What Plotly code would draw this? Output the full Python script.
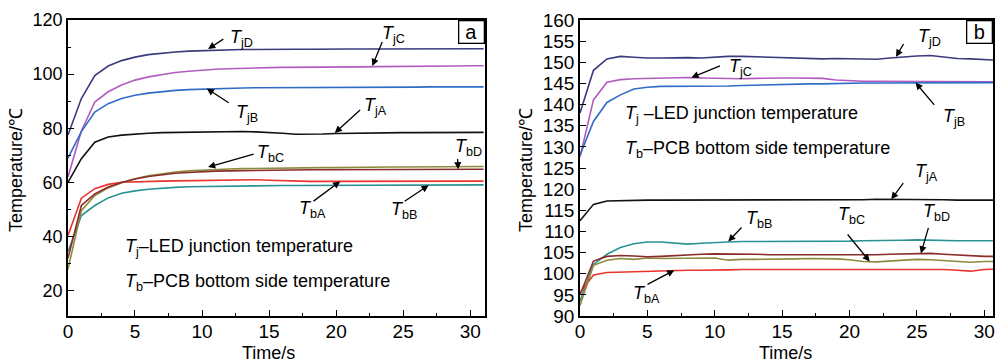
import plotly.graph_objects as go

# ---------------- data ----------------
time_s = list(range(0, 32))

# panel a
a_TjD = [77.5, 91.0, 99.5, 103.0, 105.0, 106.3, 107.2, 107.8, 108.2, 108.5, 108.7, 108.9, 109.0, 109.1, 109.1, 109.2,
         109.2, 109.2, 109.2, 109.3, 109.3, 109.3, 109.3, 109.3, 109.3, 109.3, 109.4, 109.4, 109.4, 109.4, 109.4, 109.4]
a_TjC = [62.0, 79.0, 89.7, 93.5, 96.0, 97.8, 99.0, 99.9, 100.6, 101.1, 101.5, 101.8, 102.0, 102.2, 102.3, 102.4,
         102.5, 102.5, 102.6, 102.6, 102.7, 102.7, 102.7, 102.8, 102.8, 102.8, 102.9, 102.9, 103.0, 103.0, 103.1, 103.1]
a_TjB = [69.0, 78.8, 86.0, 89.1, 91.0, 92.2, 93.0, 93.6, 94.0, 94.3, 94.5, 94.7, 94.8, 94.9, 95.0, 95.0,
         95.0, 95.1, 95.1, 95.1, 95.1, 95.2, 95.2, 95.2, 95.2, 95.2, 95.2, 95.3, 95.3, 95.3, 95.3, 95.3]
a_TjA = [60.0, 68.8, 74.9, 76.8, 77.5, 77.9, 78.2, 78.4, 78.5, 78.6, 78.6, 78.7, 78.8, 78.8, 78.7, 78.5,
         78.2, 77.8, 77.8, 77.9, 78.1, 78.2, 78.3, 78.3, 78.4, 78.4, 78.4, 78.4, 78.5, 78.5, 78.5, 78.5]
a_TbA = [40.4, 54.2, 57.7, 59.3, 60.1, 60.3, 60.4, 60.5, 60.6, 60.7, 60.8, 60.9, 61.0, 61.0, 61.0, 60.8,
         60.6, 60.5, 60.4, 60.4, 60.4, 60.4, 60.4, 60.4, 60.4, 60.5, 60.5, 60.5, 60.5, 60.5, 60.5, 60.5]
a_TbB = [34.4, 47.8, 51.5, 54.3, 56.0, 56.9, 57.5, 57.9, 58.2, 58.4, 58.5, 58.6, 58.7, 58.8, 58.8, 58.9,
         58.9, 58.9, 58.9, 59.0, 59.0, 59.0, 59.0, 59.0, 59.0, 59.0, 59.1, 59.1, 59.1, 59.1, 59.1, 59.1]
a_TbC = [28.0, 49.6, 55.2, 58.0, 59.9, 61.4, 62.5, 63.3, 63.9, 64.3, 64.6, 64.8, 65.0, 65.1, 65.2, 65.3,
         65.4, 65.4, 65.5, 65.5, 65.5, 65.6, 65.6, 65.6, 65.7, 65.7, 65.7, 65.8, 65.8, 65.8, 65.9, 65.9]
a_TbD = [32.0, 51.5, 55.8, 58.3, 60.0, 61.3, 62.2, 62.9, 63.4, 63.7, 64.0, 64.2, 64.3, 64.4, 64.5, 64.5,
         64.6, 64.6, 64.7, 64.7, 64.7, 64.7, 64.8, 64.8, 64.8, 64.8, 64.8, 64.9, 64.9, 64.9, 64.9, 64.9]

# panel b
b_TjD = [138.0, 148.1, 150.8, 151.4, 151.2, 151.0, 151.0, 151.1, 151.1, 151.0, 151.2, 151.4, 151.4, 151.3, 151.2, 151.1,
         151.0, 150.9, 150.8, 150.9, 150.8, 150.7, 150.7, 151.0, 151.3, 151.5, 151.6, 151.3, 150.9, 150.8, 150.6, 150.5]
b_TjC = [127.6, 141.1, 145.3, 145.9, 146.1, 146.2, 146.3, 146.3, 146.4, 146.3, 146.2, 146.2, 146.1, 146.2, 146.3, 146.3,
         146.3, 146.3, 146.2, 145.8, 145.6, 145.5, 145.5, 145.5, 145.5, 145.5, 145.5, 145.4, 145.4, 145.4, 145.4, 145.4]
b_TjB = [128.0, 136.0, 140.5, 142.3, 143.7, 144.1, 144.3, 144.3, 144.4, 144.4, 144.4, 144.4, 144.5, 144.6, 144.7, 144.8,
         144.8, 144.9, 144.9, 145.0, 145.0, 145.1, 145.1, 145.1, 145.2, 145.2, 145.2, 145.2, 145.2, 145.2, 145.2, 145.2]
b_TjA = [112.5, 116.4, 117.2, 117.3, 117.4, 117.4, 117.4, 117.4, 117.5, 117.5, 117.5, 117.4, 117.4, 117.4, 117.4, 117.4,
         117.4, 117.5, 117.5, 117.4, 117.4, 117.5, 117.6, 117.6, 117.5, 117.5, 117.6, 117.5, 117.4, 117.4, 117.4, 117.4]
b_TbA = [95.5, 99.7, 100.3, 100.4, 100.5, 100.5, 100.6, 100.8, 100.8, 100.8, 100.8, 100.9, 101.0, 101.0, 101.1, 101.1,
         101.1, 101.1, 101.1, 101.1, 101.0, 101.0, 101.1, 101.1, 101.1, 101.1, 101.1, 101.0, 100.8, 100.6, 101.0, 101.1]
b_TbB = [93.5, 102.2, 104.6, 106.2, 107.1, 107.5, 107.5, 107.2, 107.0, 107.2, 107.4, 107.5, 107.6, 107.6, 107.6, 107.6,
         107.7, 107.7, 107.7, 107.7, 107.7, 107.8, 107.8, 107.8, 107.9, 108.0, 107.9, 107.8, 107.8, 107.8, 107.8, 107.8]
b_TbC = [92.5, 102.0, 103.2, 103.6, 103.4, 103.7, 103.6, 103.6, 103.7, 103.7, 103.7, 103.2, 103.4, 103.4, 103.4, 103.5,
         103.5, 103.6, 103.6, 103.5, 103.3, 102.9, 102.8, 103.0, 103.2, 103.4, 103.3, 103.1, 102.9, 102.7, 102.9, 102.9]
b_TbD = [95.0, 103.0, 104.1, 104.3, 104.2, 104.0, 104.1, 104.3, 104.5, 104.6, 104.7, 104.7, 104.7, 104.6, 104.5, 104.5,
         104.5, 104.5, 104.5, 104.4, 104.4, 104.4, 104.5, 104.6, 104.7, 104.8, 104.8, 104.6, 104.4, 104.2, 104.1, 104.1]

a_xticks = [0, 5, 10, 15, 20, 25, 30]
a_yticks = [20, 40, 60, 80, 100, 120]
b_yticks = [90, 95, 100, 105, 110, 115, 120, 125, 130, 135, 140, 145, 150, 155, 160]

# ---------------- styles ----------------
FONT = "Arial, Liberation Sans, sans-serif"
colors = {
    "TjD": "#3a3a7c", "TjC": "#b25cc0", "TjB": "#2f6cc6", "TjA": "#111111",
    "TbA": "#e8342c", "TbB": "#2a9292", "TbC": "#8c8a3c", "TbD": "#8a2c2c",
}

fig = go.Figure()
series_a = [("TjD", a_TjD), ("TjC", a_TjC), ("TjB", a_TjB), ("TjA", a_TjA),
            ("TbB", a_TbB), ("TbA", a_TbA), ("TbC", a_TbC), ("TbD", a_TbD)]
series_b = [("TjD", b_TjD), ("TjC", b_TjC), ("TjB", b_TjB), ("TjA", b_TjA),
            ("TbB", b_TbB), ("TbA", b_TbA), ("TbC", b_TbC), ("TbD", b_TbD)]
for name, vals in series_a:
    fig.add_trace(go.Scatter(x=time_s, y=vals, mode="lines", name=name,
                             line=dict(color=colors[name], width=1.6), xaxis="x", yaxis="y"))
for name, vals in series_b:
    fig.add_trace(go.Scatter(x=time_s, y=vals, mode="lines", name=name,
                             line=dict(color=colors[name], width=1.6), xaxis="x2", yaxis="y2"))

ax_common = dict(showline=True, linecolor="black", linewidth=1.5, mirror=True,
                 ticks="inside", ticklen=6, tickwidth=1.3, tickcolor="black", automargin=False,
                 showgrid=False, zeroline=False, tickfont=dict(family=FONT, size=19, color="black"))
x_extra = dict(ticklabelstandoff=-3)

ydom = [0.1295, 0.9449]
fig.update_layout(
    width=995, height=363, margin=dict(l=0, r=0, t=0, b=0, pad=0, autoexpand=False),
    paper_bgcolor="white", plot_bgcolor="white", showlegend=False,
    xaxis=dict(domain=[0.0683, 0.4874], range=[0, 31.1], tickvals=a_xticks, anchor="y",
               minor=dict(ticks="inside", ticklen=3, tickwidth=1.2, dtick=2.5, tick0=0, tickcolor="black"),
               **ax_common, **x_extra),
    yaxis=dict(domain=ydom, range=[10.7, 120], tickvals=a_yticks, anchor="x",
               minor=dict(ticks="inside", ticklen=3, tickwidth=1.2, dtick=10, tick0=0, tickcolor="black"),
               **{**ax_common, "tickfont": dict(family=FONT, size=18, color="black")}),
    xaxis2=dict(domain=[0.5829, 0.998], range=[0, 30.65], tickvals=a_xticks, anchor="y2",
                minor=dict(ticks="inside", ticklen=3, tickwidth=1.2, dtick=2.5, tick0=0, tickcolor="black"),
                **ax_common, **x_extra),
    yaxis2=dict(domain=ydom, range=[90, 160], tickvals=b_yticks, anchor="x2", **ax_common),
)

ann = []
# axis titles
tf = dict(family=FONT, size=18, color="black")
ann += [
    dict(text="Temperature/℃", x=16 / 995, y=1 - 170 / 363, xref="paper", yref="paper",
         textangle=-90, showarrow=False, font=tf, xanchor="center", yanchor="middle"),
    dict(text="Temperature/℃", x=526 / 995, y=1 - 170 / 363, xref="paper", yref="paper",
         textangle=-90, showarrow=False, font=tf, xanchor="center", yanchor="middle"),
    dict(text="Time/s", x=268 / 995, y=1 - 353 / 363, xref="paper", yref="paper",
         showarrow=False, font=tf, xanchor="center", yanchor="middle"),
    dict(text="Time/s", x=785 / 995, y=1 - 353 / 363, xref="paper", yref="paper",
         showarrow=False, font=tf, xanchor="center", yanchor="middle"),
]
# panel letters
for xr, yr, letter in [("x domain", "y domain", "a"), ("x2 domain", "y2 domain", "b")]:
    ann.append(dict(text=letter, x=1, y=1, xref=xr, yref=yr, xanchor="right", yanchor="top",
                    showarrow=False, font=dict(family=FONT, size=20, color="black"),
                    bordercolor="black", borderwidth=1.3, borderpad=0, bgcolor="white",
                    width=24, height=21))

lab_font = dict(family=FONT, size=18, color="black")

def label(xr, yr, sub, x, y, head, tail):
    out = []
    out.append(dict(text="<i>T</i><sub>%s</sub>" % sub, x=x, y=y, xref=xr, yref=yr,
                    xanchor="left", yanchor="middle", showarrow=False, font=lab_font))
    out.append(dict(text=" ", x=head[0], y=head[1], ax=tail[0], ay=tail[1], xref=xr, yref=yr,
                    axref=xr, ayref=yr, showarrow=True, arrowhead=2, arrowsize=1.1,
                    arrowwidth=1.3, arrowcolor="black", font=dict(size=1)))
    return out

# panel a labels: (sub, text x, text y, head, tail)
a_labels = [
    ("jD", 11.9, 113.0, (10.45, 109.3), (11.7, 113.3)),
    ("jC", 23.3, 114.5, (22.7, 103.0), (23.5, 112.6)),
    ("jB", 12.4, 85.3, (10.35, 94.7), (12.1, 89.1)),
    ("jA", 21.9, 88.2, (19.9, 78.3), (21.9, 87.3)),
    ("bC", 13.96, 70.8, (10.45, 65.7), (13.96, 70.6)),
    ("bD", 28.7, 73.0, (29.1, 64.9), (29.05, 69.4)),
    ("bA", 17.1, 50.1, (20.3, 60.4), (18.2, 52.7)),
    ("bB", 23.95, 49.7, (26.9, 59.0), (25.0, 52.7)),
]
for sub, tx, ty, h, t in a_labels:
    ann += label("x", "y", sub, tx, ty, h, t)

b_labels = [
    ("jD", 24.96, 155.9, (23.45, 151.3), (24.1, 154.8)),
    ("jC", 10.9, 148.8, (8.27, 146.4), (10.5, 149.3)),
    ("jB", 26.8, 137.0, (24.9, 145.2), (26.4, 139.5)),
    ("jA", 24.7, 124.0, (23.1, 117.6), (24.1, 121.9)),
    ("bB", 12.2, 112.9, (11.0, 107.6), (12.1, 111.3)),
    ("bC", 19.0, 113.8, (21.5, 102.9), (19.75, 109.7)),
    ("bD", 25.3, 114.5, (25.3, 104.8), (25.9, 111.3)),
    ("bA", 3.8, 95.2, (7.0, 100.8), (4.9, 97.3)),
]
for sub, tx, ty, h, t in b_labels:
    ann += label("x2", "y2", sub, tx, ty, h, t)

# description texts
ann += [
    dict(text="<i>T</i><sub>j</sub>–LED junction temperature", x=4.1, y=36.0, xref="x", yref="y",
         xanchor="left", yanchor="middle", showarrow=False, font=lab_font),
    dict(text="<i>T</i><sub>b</sub>–PCB bottom side temperature", x=4.1, y=23.0, xref="x", yref="y",
         xanchor="left", yanchor="middle", showarrow=False, font=lab_font),
    dict(text="<i>T</i><sub>j</sub> –LED junction temperature", x=3.2, y=137.6, xref="x2", yref="y2",
         xanchor="left", yanchor="middle", showarrow=False, font=lab_font),
    dict(text="<i>T</i><sub>b</sub>–PCB bottom side temperature", x=3.2, y=129.3, xref="x2", yref="y2",
         xanchor="left", yanchor="middle", showarrow=False, font=lab_font),
]
fig.update_layout(annotations=ann)
fig.write_html("out.html", config={"displayModeBar": False},
               post_script="document.body.style.margin='0';document.body.style.padding='0';")
